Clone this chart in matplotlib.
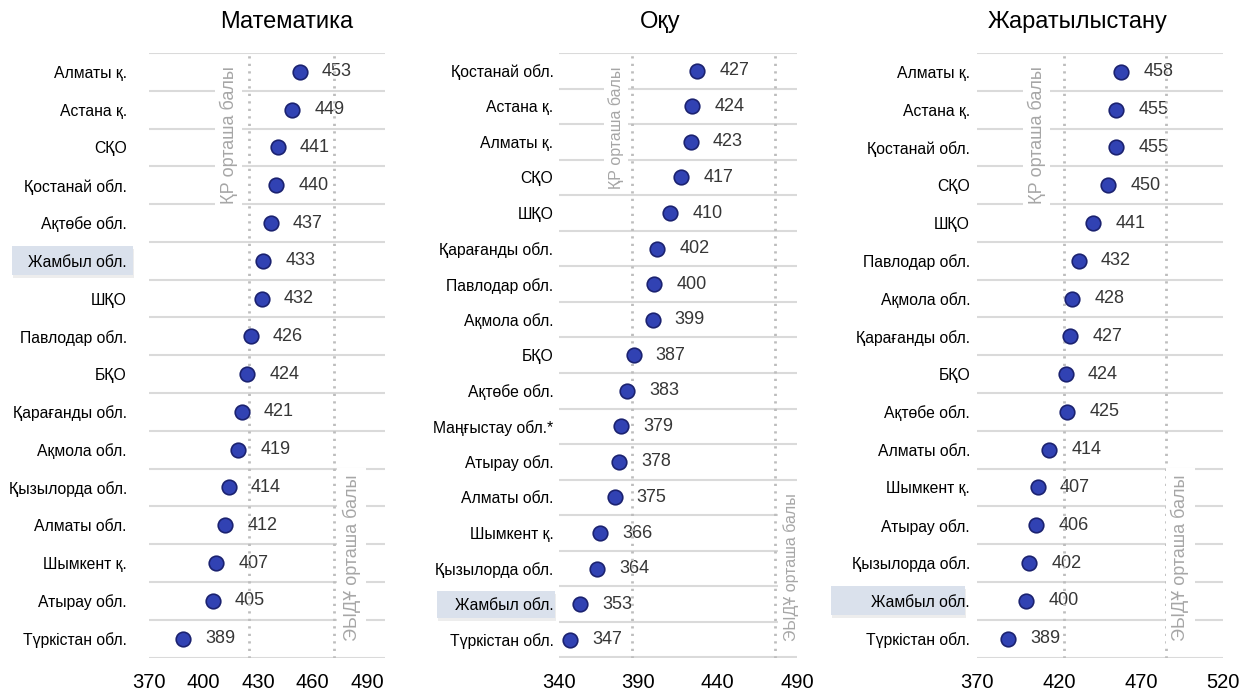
import numpy as np
import matplotlib.pyplot as plt
from matplotlib.patches import Rectangle
from matplotlib import transforms

plt.rcParams['font.family'] = ['Liberation Sans', 'DejaVu Sans']

# PISA scores by region
math_regions = ['Алматы қ.', 'Астана қ.', 'СҚО', 'Қостанай обл.', 'Ақтөбе обл.',
                'Жамбыл обл.', 'ШҚО', 'Павлодар обл.', 'БҚО', 'Қарағанды обл.',
                'Ақмола обл.', 'Қызылорда обл.', 'Алматы обл.', 'Шымкент қ.',
                'Атырау обл.', 'Түркістан обл.']
math_scores = [453, 449, 441, 440, 437, 433, 432, 426, 424, 421, 419, 414, 412, 407, 405, 389]

read_regions = ['Қостанай обл.', 'Астана қ.', 'Алматы қ.', 'СҚО', 'ШҚО',
                'Қарағанды обл.', 'Павлодар обл.', 'Ақмола обл.', 'БҚО', 'Ақтөбе обл.',
                'Маңғыстау обл.*', 'Атырау обл.', 'Алматы обл.', 'Шымкент қ.',
                'Қызылорда обл.', 'Жамбыл обл.', 'Түркістан обл.']
read_scores = [427, 424, 423, 417, 410, 402, 400, 399, 387, 383, 379, 378, 375, 366, 364, 353, 347]

sci_regions = ['Алматы қ.', 'Астана қ.', 'Қостанай обл.', 'СҚО', 'ШҚО',
               'Павлодар обл.', 'Ақмола обл.', 'Қарағанды обл.', 'БҚО', 'Ақтөбе обл.',
               'Алматы обл.', 'Шымкент қ.', 'Атырау обл.', 'Қызылорда обл.',
               'Жамбыл обл.', 'Түркістан обл.']
sci_scores = [458, 455, 455, 450, 441, 432, 428, 427, 424, 425, 414, 407, 406, 402, 400, 389]

titles = ['Математика', 'Оқу', 'Жаратылыстану']
kz_mean = [425, 386, 423]
oecd_mean = [472, 476, 485]
kz_label = 'ҚР орташа балы'
oecd_label = 'ЭЫДҰ орташа балы'
highlight = 'Жамбыл обл.'

x_limits = [(370, 500), (340, 490), (370, 520)]
x_ticks = [np.arange(370, 491, 30), np.arange(340, 491, 50), np.arange(370, 521, 50)]

W, H = 1248, 694
fig = plt.figure(figsize=(W / 100, H / 100), dpi=100)

# layout in pixels: (left, right) of axes, title centre, label pad, text offsets, highlight box
ax_px = [(149, 385), (559, 797), (977, 1223)]
title_x = [287, 660, 1078]
label_pad = [16, 4, 5]
kz_off = [-8, -6, -13]
kz_size = [13, 11.5, 13]
oecd_off = [6, 6, 4]
box_px = [(12, 133), (437, 555), (831, 965)]

panels = [(math_regions, math_scores), (read_regions, read_scores), (sci_regions, sci_scores)]
top, bottom = 53, 657.5

for i, (regions, scores) in enumerate(panels):
    l, r = ax_px[i]
    ax = fig.add_axes([l / W, 1 - bottom / H, (r - l) / W, (bottom - top) / H])
    ax.set_facecolor('none')
    n = len(regions)
    y = np.arange(n)
    ax.set_xlim(*x_limits[i])
    ax.set_ylim(n - 0.5, -0.5)
    for b in np.arange(n + 1) - 0.5:
        ax.axhline(b, color='#dadada', lw=1.5, zorder=1)
    for v in (kz_mean[i], oecd_mean[i]):
        ax.axvline(v, color='#bdbdbd', lw=2, ls=(0, (0.8, 1.9)), zorder=2.5)
    ax.scatter(scores, y, s=110, c='#3142b3', edgecolors='#1b2270', linewidths=1.2, zorder=4)
    for v, yy in zip(scores, y):
        ax.annotate(str(v), (v, yy), xytext=(16, 0), textcoords='offset points',
                    ha='left', va='center', fontsize=13, color='#363636', zorder=2)
    ax.annotate(kz_label, xy=(kz_mean[i], 0.978), xycoords=('data', 'axes fraction'),
                xytext=(kz_off[i], 0), textcoords='offset points', rotation=90,
                ha='right', va='top', fontsize=kz_size[i], color='#a6a6a6', zorder=3,
                bbox=dict(fc='white', ec='none', pad=3))
    ax.annotate(oecd_label, xy=(oecd_mean[i], 0.028), xycoords=('data', 'axes fraction'),
                xytext=(oecd_off[i], 0), textcoords='offset points', rotation=90,
                ha='left', va='bottom', fontsize=kz_size[i], color='#a6a6a6', zorder=3,
                bbox=dict(fc='white', ec='none', pad=4))

    ax.set_yticks(y)
    ax.set_yticklabels(regions, fontsize=11.3)
    ax.set_xticks(x_ticks[i])
    ax.tick_params(axis='y', length=0, pad=label_pad[i])
    ax.tick_params(axis='x', length=0, pad=11, labelsize=14.5)
    for s in ax.spines.values():
        s.set_visible(False)

    fig.text(title_x[i] / W, 1 - 22 / H, titles[i], ha='center', va='center', fontsize=17)

    # highlighted region label
    k = regions.index(highlight)
    trans = transforms.blended_transform_factory(fig.transFigure, ax.transData)
    bx0, bx1 = box_px[i]
    shadow = Rectangle((bx0 / W, k - 0.38), (bx1 - bx0) / W, 0.76, fc='#ededed', ec='none',
                       transform=transforms.offset_copy(trans, fig, x=1, y=-3, units='dots'),
                       zorder=-2)
    box = Rectangle((bx0 / W, k - 0.38), (bx1 - bx0) / W, 0.76, fc='#dae1ec', ec='none',
                    transform=trans, zorder=-1)
    fig.add_artist(shadow)
    fig.add_artist(box)

fig.savefig('out.png', dpi=100, facecolor='white')
